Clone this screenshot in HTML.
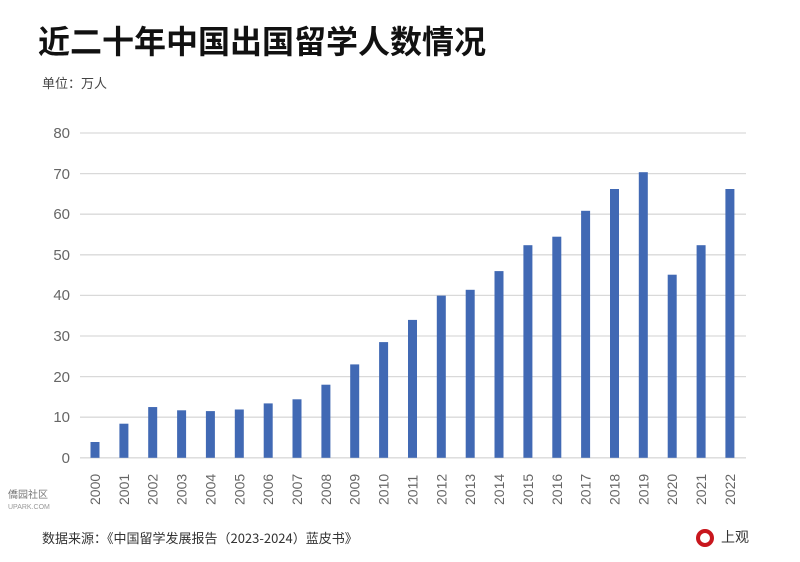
<!DOCTYPE html>
<html><head><meta charset="utf-8"><style>
body{margin:0;background:#fff;}
svg{display:block}
</style></head><body>
<svg width="800" height="562" xmlns="http://www.w3.org/2000/svg" font-family="Liberation Sans, Noto Sans CJK SC, sans-serif">
<text x="38" y="53" font-size="32" font-weight="bold" fill="#111" font-family="Noto Sans CJK SC, sans-serif">近二十年中国出国留学人数情况</text>
<text x="42" y="88" font-size="13" fill="#444" font-family="Noto Sans CJK SC, sans-serif">单位：万人</text>
<g stroke="#d9d9d9" stroke-width="1.3">
<line x1="80" x2="746" y1="133" y2="133"/><line x1="80" x2="746" y1="173.6" y2="173.6"/>
<line x1="80" x2="746" y1="214.2" y2="214.2"/><line x1="80" x2="746" y1="254.8" y2="254.8"/>
<line x1="80" x2="746" y1="295.4" y2="295.4"/><line x1="80" x2="746" y1="336" y2="336"/>
<line x1="80" x2="746" y1="376.6" y2="376.6"/><line x1="80" x2="746" y1="417.2" y2="417.2"/>
<line x1="80" x2="746" y1="457.8" y2="457.8"/>
</g>
<g font-size="15" fill="#666" text-anchor="end">
<text x="70" y="138">80</text><text x="70" y="179">70</text><text x="70" y="219">60</text>
<text x="70" y="260">50</text><text x="70" y="300">40</text><text x="70" y="341">30</text>
<text x="70" y="382">20</text><text x="70" y="422">10</text><text x="70" y="463">0</text>
</g>
<g fill="#4169b4">
<rect x="90.5" y="442.0" width="9" height="15.8"/>
<rect x="119.4" y="423.7" width="9" height="34.1"/>
<rect x="148.2" y="407.05" width="9" height="50.75"/>
<rect x="177.1" y="410.3" width="9" height="47.5"/>
<rect x="205.9" y="411.1" width="9" height="46.7"/>
<rect x="234.8" y="409.5" width="9" height="48.3"/>
<rect x="263.7" y="403.4" width="9" height="54.4"/>
<rect x="292.5" y="399.3" width="9" height="58.5"/>
<rect x="321.4" y="384.7" width="9" height="73.1"/>
<rect x="350.2" y="364.4" width="9" height="93.4"/>
<rect x="379.1" y="342.1" width="9" height="115.7"/>
<rect x="408.0" y="319.9" width="9" height="137.9"/>
<rect x="436.8" y="295.6" width="9" height="162.2"/>
<rect x="465.7" y="289.8" width="9" height="168.0"/>
<rect x="494.5" y="271.1" width="9" height="186.7"/>
<rect x="523.4" y="245.2" width="9" height="212.6"/>
<rect x="552.3" y="236.7" width="9" height="221.1"/>
<rect x="581.1" y="210.8" width="9" height="247.0"/>
<rect x="610.0" y="189.0" width="9" height="268.8"/>
<rect x="638.8" y="172.2" width="9" height="285.6"/>
<rect x="667.7" y="274.7" width="9" height="183.1"/>
<rect x="696.6" y="245.2" width="9" height="212.6"/>
<rect x="725.4" y="189.0" width="9" height="268.8"/>
</g>
<g font-size="14" fill="#666">
<text transform="translate(100,505) rotate(-90)">2000</text>
<text transform="translate(128.86,505) rotate(-90)">2001</text>
<text transform="translate(157.72,505) rotate(-90)">2002</text>
<text transform="translate(186.58,505) rotate(-90)">2003</text>
<text transform="translate(215.44,505) rotate(-90)">2004</text>
<text transform="translate(244.3,505) rotate(-90)">2005</text>
<text transform="translate(273.16,505) rotate(-90)">2006</text>
<text transform="translate(302.02,505) rotate(-90)">2007</text>
<text transform="translate(330.88,505) rotate(-90)">2008</text>
<text transform="translate(359.74,505) rotate(-90)">2009</text>
<text transform="translate(388.6,505) rotate(-90)">2010</text>
<text transform="translate(417.46,505) rotate(-90)">2011</text>
<text transform="translate(446.32,505) rotate(-90)">2012</text>
<text transform="translate(475.18,505) rotate(-90)">2013</text>
<text transform="translate(504.04,505) rotate(-90)">2014</text>
<text transform="translate(532.9,505) rotate(-90)">2015</text>
<text transform="translate(561.76,505) rotate(-90)">2016</text>
<text transform="translate(590.62,505) rotate(-90)">2017</text>
<text transform="translate(619.48,505) rotate(-90)">2018</text>
<text transform="translate(648.34,505) rotate(-90)">2019</text>
<text transform="translate(677.2,505) rotate(-90)">2020</text>
<text transform="translate(706.06,505) rotate(-90)">2021</text>
<text transform="translate(734.92,505) rotate(-90)">2022</text>
</g>
<text x="42" y="543" font-size="13" fill="#333" font-family="Noto Sans CJK SC, sans-serif">数据来源：《中国留学发展报告（2023-2024）蓝皮书》</text>
<text x="8" y="498" font-size="10" fill="#777" font-family="Noto Sans CJK SC, sans-serif">僑园社区</text>
<text x="8" y="509" font-size="7" fill="#999">UPARK.COM</text>
<circle cx="705" cy="538" r="7" fill="none" stroke="#c8161d" stroke-width="4"/>
<text x="721" y="542" font-size="14" fill="#333" font-family="Noto Sans CJK SC, sans-serif">上观</text>
</svg>
</body></html>
